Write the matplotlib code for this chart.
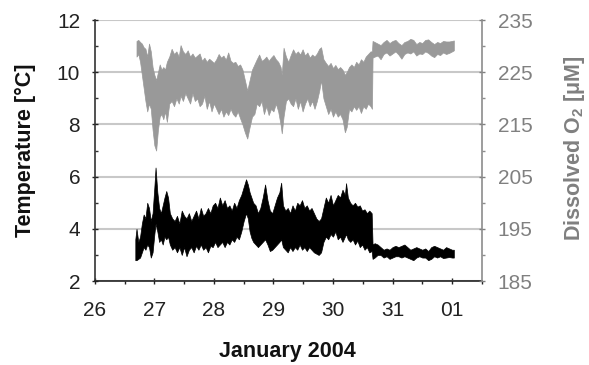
import matplotlib
matplotlib.use("Agg")
import matplotlib.pyplot as plt
from matplotlib.ticker import MultipleLocator, FixedLocator

plt.rcParams['font.family'] = ['Liberation Sans', 'DejaVu Sans']
plt.rcParams['mathtext.fontset'] = 'custom'
plt.rcParams['mathtext.rm'] = 'Liberation Sans:bold'
plt.rcParams['mathtext.it'] = 'Liberation Sans:bold'
plt.rcParams['mathtext.bf'] = 'Liberation Sans:bold'

# ---- Data (day of month; 32 = 1 February) ----
temp_time = [26.68, 26.70, 26.73, 26.76, 26.79, 26.82, 26.85, 26.88, 26.91, 26.94, 26.97,
             27.00, 27.02, 27.05, 27.08, 27.11, 27.14, 27.17, 27.20, 27.23, 27.26, 27.30,
             27.34, 27.38, 27.42, 27.46, 27.50, 27.54, 27.58, 27.62, 27.66, 27.70, 27.74,
             27.78, 27.82, 27.86, 27.90, 27.94, 27.98, 28.02, 28.06, 28.10, 28.14, 28.18,
             28.22, 28.26, 28.30, 28.34, 28.38, 28.42, 28.46, 28.50, 28.54, 28.57, 28.60,
             28.63, 28.66, 28.70, 28.74, 28.78, 28.82, 28.86, 28.90, 28.94, 28.98, 29.02,
             29.06, 29.10, 29.13, 29.16, 29.20, 29.24, 29.28, 29.32, 29.36, 29.40, 29.44,
             29.48, 29.52, 29.56, 29.60, 29.64, 29.68, 29.72, 29.76, 29.80, 29.84, 29.88,
             29.92, 29.96, 30.00, 30.04, 30.08, 30.12, 30.16, 30.20, 30.22, 30.25, 30.29,
             30.33, 30.37, 30.41, 30.45, 30.49, 30.53, 30.57, 30.61, 30.65, 30.665, 30.70,
             30.75, 30.80, 30.85, 30.90, 30.95, 31.00, 31.05, 31.10, 31.15, 31.20, 31.25,
             31.30, 31.35, 31.40, 31.45, 31.50, 31.55, 31.60, 31.65, 31.70, 31.75, 31.80,
             31.85, 31.90, 31.95, 32.00, 32.03]
temp_low = [2.8, 2.8, 2.85, 2.9, 3.1, 3.3, 3.2, 3.4, 3.3, 2.9, 3.1,
            3.8, 4.2, 3.9, 3.5, 3.6, 3.4, 3.7, 3.6, 3.7, 3.4, 3.2,
            3.3, 3.1, 3.3, 3.0, 3.3, 2.95, 3.2, 3.3, 3.1, 3.35, 3.2,
            3.4, 3.2, 3.3, 3.1, 3.35, 3.3, 3.5, 3.3, 3.4, 3.5, 3.3,
            3.5, 3.4, 3.6, 3.5, 3.7, 3.6, 3.9, 4.3, 4.6, 4.4, 3.9,
            3.65, 3.5, 3.4, 3.3, 3.4, 3.5, 3.6, 3.4, 3.15, 3.2, 3.3,
            3.4, 3.5, 3.6, 3.3, 3.2, 3.1, 3.3, 3.15, 3.3, 3.2, 3.4,
            3.2, 3.3, 3.15, 3.3, 3.2, 3.1, 3.05, 3.0, 3.1, 3.5, 3.7,
            3.6, 3.8, 3.7, 3.9, 3.6, 3.7, 3.5, 3.7, 3.8, 3.6, 3.5,
            3.6, 3.4, 3.55, 3.3, 3.4, 3.2, 3.3, 3.1, 3.15, 2.85, 2.9,
            3.0, 3.0, 2.9, 2.95, 2.85, 2.9, 2.95, 2.95, 2.9, 2.95, 2.9,
            2.85, 2.8, 2.9, 2.95, 2.9, 2.9, 2.8, 2.85, 2.95, 2.9, 2.95,
            2.88, 2.9, 2.92, 2.9, 2.9]
temp_high = [3.6, 4.0, 3.5, 3.7, 4.2, 4.55, 4.4, 5.0, 4.8, 4.3, 4.6,
             5.6, 6.35, 5.4, 4.8, 4.6, 4.9, 5.2, 5.45, 5.2, 4.6, 4.4,
             4.3, 4.5, 4.2, 4.7, 4.5, 4.4, 4.6, 4.3, 4.5, 4.7, 4.4,
             4.8, 4.5, 4.6, 4.8, 4.6, 4.9, 5.0, 4.8, 5.2, 4.9, 5.1,
             4.8, 4.9, 4.7, 5.0, 4.8, 5.1, 5.3, 5.6, 5.9, 5.7, 5.4,
             5.2, 5.0, 4.9, 4.6, 4.8, 5.2, 5.7, 5.1, 4.7, 4.6, 4.9,
             5.2, 5.4, 5.77, 4.9, 4.7, 4.8, 4.6, 4.9, 4.7, 5.0, 4.9,
             5.1, 4.8, 4.9, 4.7, 4.8, 4.6, 4.4, 4.3, 4.4, 4.8, 5.2,
             5.0, 5.3, 4.9, 5.1, 5.3, 5.2, 5.5, 5.3, 5.75, 5.2, 5.0,
             4.9, 5.0, 4.85, 4.9, 4.7, 4.75, 4.6, 4.7, 4.6, 3.4, 3.45,
             3.4, 3.3, 3.2, 3.25, 3.2, 3.3, 3.35, 3.3, 3.35, 3.4, 3.3,
             3.2, 3.25, 3.3, 3.25, 3.2, 3.25, 3.15, 3.3, 3.35, 3.3, 3.25,
             3.2, 3.3, 3.25, 3.2, 3.2]

o2_time = [26.70, 26.73, 26.76, 26.79, 26.82, 26.85, 26.88, 26.91, 26.94, 26.97, 27.00,
           27.03, 27.06, 27.09, 27.12, 27.15, 27.18, 27.21, 27.25, 27.29, 27.33, 27.37,
           27.41, 27.44, 27.48, 27.52, 27.56, 27.60, 27.64, 27.68, 27.72, 27.76, 27.80,
           27.84, 27.88, 27.92, 27.96, 28.00, 28.04, 28.08, 28.12, 28.16, 28.20, 28.24,
           28.28, 28.32, 28.36, 28.40, 28.44, 28.48, 28.52, 28.56, 28.60, 28.64, 28.68,
           28.72, 28.76, 28.80, 28.84, 28.88, 28.92, 28.96, 29.00, 29.04, 29.08, 29.12,
           29.14, 29.17, 29.21, 29.25, 29.29, 29.33, 29.37, 29.41, 29.45, 29.49, 29.53,
           29.57, 29.61, 29.65, 29.69, 29.73, 29.77, 29.80, 29.84, 29.88, 29.92, 29.96,
           30.00, 30.04, 30.08, 30.12, 30.16, 30.20, 30.23, 30.27, 30.31, 30.35, 30.39,
           30.43, 30.47, 30.51, 30.55, 30.59, 30.63, 30.655, 30.665, 30.70, 30.75, 30.80,
           30.85, 30.90, 30.95, 31.00, 31.05, 31.10, 31.15, 31.20, 31.25, 31.30, 31.35,
           31.40, 31.45, 31.50, 31.55, 31.60, 31.65, 31.70, 31.75, 31.80, 31.85, 31.90,
           31.95, 32.00, 32.03]
o2_low = [228.0, 228.5, 227.0, 224.5, 222.0, 219.5, 217.5, 219.0, 218.0, 214.0, 211.0,
          210.0, 214.0, 216.5, 217.0, 216.0, 217.5, 215.5, 219.0, 219.5, 218.5, 220.0,
          219.0, 220.5, 219.5, 221.0, 220.0, 219.0, 221.0, 219.5, 220.0, 218.5, 219.0,
          220.5, 218.0, 219.5, 217.5, 219.0, 218.0, 217.0, 218.0, 216.5, 217.5, 216.8,
          218.0, 217.0, 216.5, 217.5, 216.2, 215.0, 213.5, 212.3, 214.5, 216.5, 217.0,
          219.0, 218.5, 219.5, 217.0, 218.5, 216.8, 218.0, 217.5, 219.0, 217.5, 215.0,
          213.3, 216.5, 219.5, 220.0, 219.0, 218.5, 220.0, 218.0, 219.5, 217.5, 219.0,
          220.0, 218.5, 219.5, 218.0, 219.5, 221.5, 223.5, 220.0, 218.5, 217.0, 218.0,
          216.5, 217.5, 216.5, 217.0, 216.0, 213.5, 214.5, 218.0, 217.5, 218.5, 217.8,
          218.5, 217.2, 218.5, 218.0, 219.0, 218.5, 218.0, 227.8, 228.0, 228.2, 227.5,
          228.5, 228.8, 228.2, 228.6, 229.0, 228.4, 227.6, 228.5, 228.8, 228.6, 229.0,
          228.2, 228.6, 228.5, 229.0, 228.7, 228.2, 227.9, 228.5, 228.3, 228.8, 228.5,
          228.7, 229.0, 229.2]
o2_high = [231.0, 231.2, 230.8, 230.5, 229.8, 229.5, 228.0, 230.5, 229.0, 226.0, 224.5,
           223.5, 225.0, 226.5, 225.5, 226.0, 225.5, 227.0, 228.0, 229.5, 228.5, 229.0,
           228.0, 230.2, 229.0, 228.5, 229.2, 228.0, 228.6, 227.8, 228.2, 228.6, 227.2,
           227.8, 227.0, 227.6, 227.2, 226.8, 227.5, 228.5, 227.8, 228.2, 227.4, 228.8,
           227.2, 226.8, 227.0, 226.2, 226.5, 225.5, 223.5, 221.5, 223.5, 225.5, 226.5,
           227.5, 228.4, 227.2, 227.5, 228.0, 227.2, 227.8, 228.3, 227.5, 227.0, 226.0,
           224.5, 229.7, 228.0, 227.0, 228.3, 229.4, 228.5, 229.0, 228.4, 229.4, 228.2,
           228.8, 227.8, 228.4, 228.0, 228.6, 229.5, 229.8, 227.5, 226.8, 226.2, 226.8,
           225.8, 226.4, 225.6, 226.0, 225.5, 224.5, 225.0, 226.0, 226.5, 226.0, 227.0,
           226.5, 227.5, 227.0, 228.0, 228.5, 229.0, 229.0, 231.0, 230.8, 230.5, 230.2,
           230.8, 231.2, 230.6, 231.0, 231.2, 230.6, 230.2, 230.8, 231.0, 231.4, 231.2,
           230.4, 230.8, 230.6, 231.2, 231.3, 230.8, 230.4, 230.8, 230.6, 231.0, 230.9,
           230.9, 231.0, 231.1]

day_ticks = [26, 27, 28, 29, 30, 31, 32]
day_labels = ['26', '27', '28', '29', '30', '31', '01']
temp_ticks = [2, 4, 6, 8, 10, 12]
o2_ticks = [185, 195, 205, 215, 225, 235]
o2_minor_ticks = [190, 200, 210, 220, 230]

temp_color = 'black'
o2_color = '#999999'

fig = plt.figure(figsize=(5.89, 3.65), dpi=100)
ax = fig.add_axes([0.161, 0.230, 0.657, 0.715])
ax2 = ax.twinx()

ax.fill_between(temp_time, temp_low, temp_high, color=temp_color, lw=0.5, zorder=3)
ax2.fill_between(o2_time, o2_low, o2_high, color=o2_color, lw=0.5, zorder=3)

ax.set_xlim(26, 32.5)
ax.set_ylim(2, 12)
ax2.set_ylim(185, 235)

ax.xaxis.set_major_locator(FixedLocator(day_ticks))
ax.set_xticklabels(day_labels)
ax.xaxis.set_minor_locator(MultipleLocator(0.5))
ax.yaxis.set_major_locator(FixedLocator(temp_ticks))
ax.yaxis.set_minor_locator(MultipleLocator(1))
ax2.yaxis.set_major_locator(FixedLocator(o2_ticks))
ax2.yaxis.set_minor_locator(FixedLocator(o2_minor_ticks))

ax.yaxis.grid(True, which='major', color='#c8c8c8', lw=1.5)
ax.set_axisbelow(True)

ax.spines['top'].set_visible(False)
ax2.spines['top'].set_visible(False)
ax2.spines['left'].set_visible(False)
ax2.spines['bottom'].set_visible(False)
ax.spines['right'].set_visible(False)
ax.spines['left'].set_color('#333333')
ax.spines['bottom'].set_color('#222222')
ax2.spines['right'].set_color('#8c8c8c')
for sp in [ax.spines['left'], ax.spines['bottom'], ax2.spines['right']]:
    sp.set_linewidth(1.2)

ax.tick_params(axis='y', which='major', direction='inout', length=5, width=1,
               labelsize=15, colors='#222222', pad=8)
ax.tick_params(axis='y', which='minor', direction='in', length=2.5, width=1, colors='#333333')
ax.tick_params(axis='x', which='major', direction='inout', length=5, width=1,
               labelsize=15, colors='#222222', pad=12)
ax.tick_params(axis='x', which='minor', direction='out', length=2.5, width=1, colors='#222222')
ax2.tick_params(axis='y', which='major', direction='inout', length=5, width=1,
                labelsize=15, colors='#808080', pad=9)
ax2.tick_params(axis='y', which='minor', direction='out', length=2.5, width=1, colors='#8c8c8c')

fig.text(0.0424, 0.589, 'Temperature [°C]', rotation=90, ha='center', va='center',
         fontsize=15.5, fontweight='bold', color='#111111')
fig.text(0.976, 0.594, r'Dissolved O$_2$ [μM]', rotation=90, ha='center', va='center',
         fontsize=15.5, fontweight='bold', color='#808080')
fig.text(0.488, 0.036, 'January 2004', ha='center', va='center',
         fontsize=15.5, fontweight='bold', color='#111111')

fig.savefig('out.png', dpi=100)
